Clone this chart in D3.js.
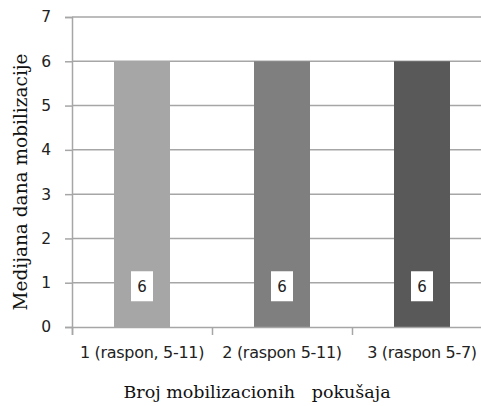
<!DOCTYPE html>
<html>
<head>
<meta charset="utf-8">
<script src="https://cdn.jsdelivr.net/npm/d3@7"></script>
<style>
  body { margin: 0; background: #fff; }
  svg { display: block; }
</style>
</head>
<body>
<svg></svg>
<script>
// chart data
var categories = ['1 (raspon, 5-11)', '2 (raspon 5-11)', '3 (raspon 5-7)'];
var values = [6, 6, 6];
var barColors = ['#a6a6a6', '#7f7f7f', '#595959'];
var yTicks = [0, 1, 2, 3, 4, 5, 6, 7];

var svgwidth = 481;
var svgheight = 406;

var svg = d3.select('svg').attr('width', svgwidth).attr('height', svgheight);

var margins = { top: 17, left: 72, bottom: 79 };
var height = svgheight - margins.top - margins.bottom;
var plotWidth = 420;

var xScale = d3.scaleBand()
               .domain(categories)
               .range([0, plotWidth])
               .paddingInner(0.6)
               .paddingOuter(0.3);

var yScale = d3.scaleLinear()
               .domain([0, 7])
               .range([height, 0]);

var plot = svg.append('g')
              .attr('transform', 'translate(' + margins.left + ',' + margins.top + ')');

// gridlines
plot.selectAll('line.grid')
    .data(yTicks.slice(1))
    .enter().append('line')
    .attr('class', 'grid')
    .attr('x1', 0).attr('x2', plotWidth)
    .attr('y1', function(d){ return yScale(d); })
    .attr('y2', function(d){ return yScale(d); })
    .attr('stroke', '#a6a6a6')
    .attr('stroke-width', 1.5);

// bars
plot.selectAll('rect.bar')
    .data(values)
    .enter().append('rect')
    .attr('class', 'bar')
    .attr('x', function(d, i){ return xScale(categories[i]); })
    .attr('width', xScale.bandwidth())
    .attr('y', function(d){ return yScale(d); })
    .attr('height', function(d){ return height - yScale(d); })
    .attr('fill', function(d, i){ return barColors[i]; });

// value labels
var lab = plot.selectAll('g.lab')
    .data(values)
    .enter().append('g')
    .attr('class', 'lab')
    .attr('transform', function(d, i){
      return 'translate(' + (xScale(categories[i]) + xScale.bandwidth() / 2) + ',' + yScale(0.92) + ')';
    });
lab.append('rect')
   .attr('x', -11).attr('y', -15)
   .attr('width', 22).attr('height', 30)
   .attr('fill', '#fff');
lab.append('text')
   .attr('text-anchor', 'middle')
   .attr('dy', '0.36em')
   .style('font-family', 'DejaVu Sans, sans-serif')
   .style('font-size', '15px')
   .attr('fill', '#222')
   .text(function(d){ return d; });

// y axis
var yAxis = d3.axisLeft(yScale).tickValues(yTicks).tickFormat(d3.format('d'))
              .tickSize(7).tickPadding(14);
var yG = plot.append('g').call(yAxis);
yG.select('.domain').attr('stroke', '#a6a6a6').attr('stroke-width', 1.5);
yG.selectAll('.tick line').attr('stroke', '#a6a6a6').attr('stroke-width', 1.5);
yG.selectAll('.tick text')
  .style('font-family', 'DejaVu Sans, sans-serif')
  .style('font-size', '15.5px')
  .attr('fill', '#222');

// x axis
var xAxis = d3.axisBottom(d3.scaleLinear().domain([0, 3]).range([0, plotWidth]))
              .tickValues([0, 1, 2, 3]).tickSize(8).tickFormat('');
var xG = plot.append('g').attr('transform', 'translate(0,' + height + ')').call(xAxis);
xG.select('.domain').attr('stroke', '#a6a6a6').attr('stroke-width', 1.5);
xG.selectAll('.tick line').attr('stroke', '#a6a6a6').attr('stroke-width', 1.5);

plot.selectAll('text.cat')
    .data(categories)
    .enter().append('text')
    .attr('class', 'cat')
    .attr('x', function(d){ return xScale(d) + xScale.bandwidth() / 2; })
    .attr('y', height + 31)
    .attr('text-anchor', 'middle')
    .style('font-family', 'DejaVu Sans, sans-serif')
    .style('font-size', '16px')
    .style('letter-spacing', '-0.3px')
    .attr('fill', '#222')
    .text(function(d){ return d; });

// axis titles
svg.append('text')
   .attr('transform', 'translate(27,182) rotate(-90)')
   .attr('text-anchor', 'middle')
   .style('font-family', 'DejaVu Serif, serif')
   .style('font-size', '18.5px')
   .attr('fill', '#111')
   .text('Medijana dana mobilizacije');

svg.append('text')
   .attr('x', 257).attr('y', 398)
   .attr('text-anchor', 'middle')
   .style('font-family', 'DejaVu Serif, serif')
   .style('font-size', '17.5px')
   .style('white-space', 'pre')
   .attr('fill', '#111')
   .text('Broj mobilizacionih   pokušaja');
</script>
</body>
</html>
